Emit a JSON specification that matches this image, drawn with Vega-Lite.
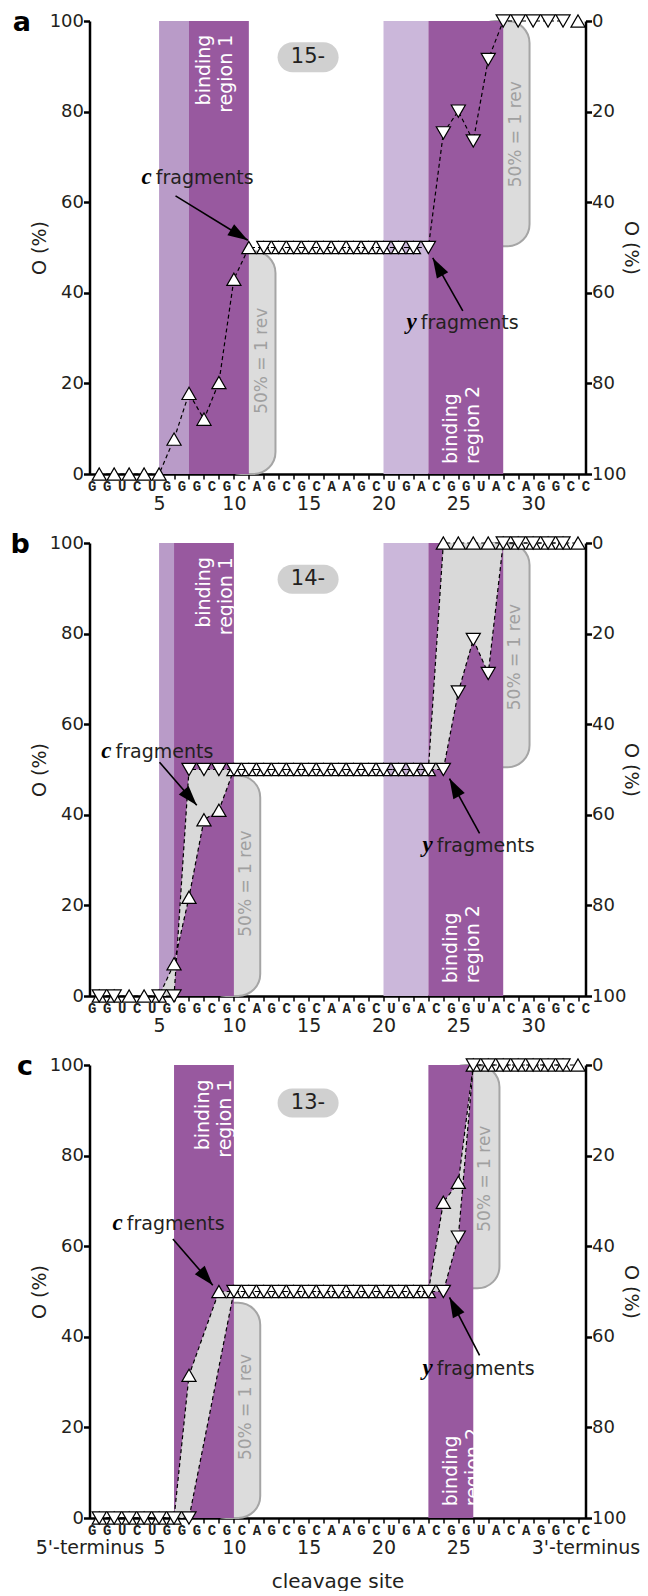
{
"$schema": "https://vega.github.io/schema/vega-lite/v6.json",
"padding": {"left": 9.5, "top": 9, "right": 0, "bottom": 0},
"spacing": 18,
"config": {"font": "DejaVu Sans", "view": {"stroke": null}, "axis": {"grid": false, "domainColor": "#000", "tickColor": "#000", "labelColor": "#231f20", "titleColor": "#231f20", "labelFont": "DejaVu Sans", "titleFont": "DejaVu Sans", "titleFontWeight": "normal"}},
"datasets": {"all": [
{"k":"c","p":"a","g":1,"s":1,"v":0},{"k":"c","p":"a","g":1,"s":2,"v":0},{"k":"c","p":"a","g":1,"s":3,"v":0},{"k":"c","p":"a","g":1,"s":4,"v":0},{"k":"c","p":"a","g":1,"s":5,"v":0},{"k":"c","p":"a","g":1,"s":6,"v":7.7},{"k":"c","p":"a","g":1,"s":7,"v":17.8},{"k":"c","p":"a","g":1,"s":8,"v":12.1},{"k":"c","p":"a","g":1,"s":9,"v":20.2},{"k":"c","p":"a","g":1,"s":10,"v":43},{"k":"c","p":"a","g":1,"s":11,"v":50},{"k":"c","p":"a","g":1,"s":12,"v":50},{"k":"c","p":"a","g":1,"s":13,"v":50},{"k":"c","p":"a","g":1,"s":14,"v":50},{"k":"c","p":"a","g":1,"s":15,"v":50},{"k":"c","p":"a","g":1,"s":16,"v":50},{"k":"c","p":"a","g":1,"s":17,"v":50},{"k":"c","p":"a","g":1,"s":18,"v":50},{"k":"c","p":"a","g":1,"s":19,"v":50},{"k":"c","p":"a","g":1,"s":20,"v":50},{"k":"c","p":"a","g":1,"s":21,"v":50},{"k":"c","p":"a","g":1,"s":22,"v":50},{"k":"c","p":"a","g":2,"s":33,"v":100},
{"k":"y","p":"a","g":1,"s":12,"v":50},{"k":"y","p":"a","g":1,"s":13,"v":50},{"k":"y","p":"a","g":1,"s":14,"v":50},{"k":"y","p":"a","g":1,"s":15,"v":50},{"k":"y","p":"a","g":1,"s":16,"v":50},{"k":"y","p":"a","g":1,"s":17,"v":50},{"k":"y","p":"a","g":1,"s":18,"v":50},{"k":"y","p":"a","g":1,"s":19,"v":50},{"k":"y","p":"a","g":1,"s":20,"v":50},{"k":"y","p":"a","g":1,"s":21,"v":50},{"k":"y","p":"a","g":1,"s":22,"v":50},{"k":"y","p":"a","g":1,"s":23,"v":50},{"k":"y","p":"a","g":1,"s":24,"v":24.7},{"k":"y","p":"a","g":1,"s":25,"v":19.9},{"k":"y","p":"a","g":1,"s":26,"v":26.5},{"k":"y","p":"a","g":1,"s":27,"v":8.5},{"k":"y","p":"a","g":1,"s":28,"v":0},{"k":"y","p":"a","g":1,"s":29,"v":0},{"k":"y","p":"a","g":1,"s":30,"v":0},{"k":"y","p":"a","g":1,"s":31,"v":0},{"k":"y","p":"a","g":1,"s":32,"v":0},
{"k":"c","p":"b","g":1,"s":1,"v":0},{"k":"c","p":"b","g":1,"s":2,"v":0},{"k":"c","p":"b","g":1,"s":3,"v":0},{"k":"c","p":"b","g":1,"s":4,"v":0},{"k":"c","p":"b","g":1,"s":5,"v":0},{"k":"c","p":"b","g":1,"s":6,"v":7.1},{"k":"c","p":"b","g":1,"s":7,"v":21.8},{"k":"c","p":"b","g":1,"s":8,"v":38.9},{"k":"c","p":"b","g":1,"s":9,"v":41},{"k":"c","p":"b","g":1,"s":10,"v":50},{"k":"c","p":"b","g":1,"s":11,"v":50},{"k":"c","p":"b","g":1,"s":12,"v":50},{"k":"c","p":"b","g":1,"s":13,"v":50},{"k":"c","p":"b","g":1,"s":14,"v":50},{"k":"c","p":"b","g":1,"s":15,"v":50},{"k":"c","p":"b","g":1,"s":16,"v":50},{"k":"c","p":"b","g":1,"s":17,"v":50},{"k":"c","p":"b","g":1,"s":18,"v":50},{"k":"c","p":"b","g":1,"s":19,"v":50},{"k":"c","p":"b","g":1,"s":20,"v":50},{"k":"c","p":"b","g":1,"s":21,"v":50},{"k":"c","p":"b","g":1,"s":22,"v":50},{"k":"c","p":"b","g":1,"s":23,"v":50},{"k":"c","p":"b","g":1,"s":24,"v":100},{"k":"c","p":"b","g":1,"s":25,"v":100},{"k":"c","p":"b","g":1,"s":26,"v":100},{"k":"c","p":"b","g":1,"s":27,"v":100},{"k":"c","p":"b","g":1,"s":28,"v":100},{"k":"c","p":"b","g":1,"s":29,"v":100},{"k":"c","p":"b","g":1,"s":30,"v":100},{"k":"c","p":"b","g":1,"s":31,"v":100},{"k":"c","p":"b","g":1,"s":32,"v":100},{"k":"c","p":"b","g":1,"s":33,"v":100},
{"k":"y","p":"b","g":1,"s":1,"v":100},{"k":"y","p":"b","g":1,"s":2,"v":100},{"k":"y","p":"b","g":2,"s":5,"v":100},{"k":"y","p":"b","g":2,"s":6,"v":100},{"k":"y","p":"b","g":2,"s":7,"v":50},{"k":"y","p":"b","g":2,"s":8,"v":50},{"k":"y","p":"b","g":2,"s":9,"v":50},{"k":"y","p":"b","g":2,"s":10,"v":50},{"k":"y","p":"b","g":2,"s":11,"v":50},{"k":"y","p":"b","g":2,"s":12,"v":50},{"k":"y","p":"b","g":2,"s":13,"v":50},{"k":"y","p":"b","g":2,"s":14,"v":50},{"k":"y","p":"b","g":2,"s":15,"v":50},{"k":"y","p":"b","g":2,"s":16,"v":50},{"k":"y","p":"b","g":2,"s":17,"v":50},{"k":"y","p":"b","g":2,"s":18,"v":50},{"k":"y","p":"b","g":2,"s":19,"v":50},{"k":"y","p":"b","g":2,"s":20,"v":50},{"k":"y","p":"b","g":2,"s":21,"v":50},{"k":"y","p":"b","g":2,"s":22,"v":50},{"k":"y","p":"b","g":2,"s":23,"v":50},{"k":"y","p":"b","g":2,"s":24,"v":50},{"k":"y","p":"b","g":2,"s":25,"v":32.9},{"k":"y","p":"b","g":2,"s":26,"v":21.3},{"k":"y","p":"b","g":2,"s":27,"v":28.8},{"k":"y","p":"b","g":2,"s":28,"v":0},{"k":"y","p":"b","g":2,"s":29,"v":0},{"k":"y","p":"b","g":2,"s":30,"v":0},{"k":"y","p":"b","g":2,"s":31,"v":0},{"k":"y","p":"b","g":2,"s":32,"v":0},
{"k":"c","p":"c","g":1,"s":1,"v":0},{"k":"c","p":"c","g":1,"s":2,"v":0},{"k":"c","p":"c","g":1,"s":3,"v":0},{"k":"c","p":"c","g":1,"s":4,"v":0},{"k":"c","p":"c","g":1,"s":5,"v":0},{"k":"c","p":"c","g":1,"s":6,"v":0},{"k":"c","p":"c","g":1,"s":7,"v":31.5},{"k":"c","p":"c","g":1,"s":9,"v":50},{"k":"c","p":"c","g":1,"s":10,"v":50},{"k":"c","p":"c","g":1,"s":11,"v":50},{"k":"c","p":"c","g":1,"s":12,"v":50},{"k":"c","p":"c","g":1,"s":13,"v":50},{"k":"c","p":"c","g":1,"s":14,"v":50},{"k":"c","p":"c","g":1,"s":15,"v":50},{"k":"c","p":"c","g":1,"s":16,"v":50},{"k":"c","p":"c","g":1,"s":17,"v":50},{"k":"c","p":"c","g":1,"s":18,"v":50},{"k":"c","p":"c","g":1,"s":19,"v":50},{"k":"c","p":"c","g":1,"s":20,"v":50},{"k":"c","p":"c","g":1,"s":21,"v":50},{"k":"c","p":"c","g":1,"s":22,"v":50},{"k":"c","p":"c","g":1,"s":23,"v":50},{"k":"c","p":"c","g":1,"s":24,"v":69.7},{"k":"c","p":"c","g":1,"s":25,"v":74.1},{"k":"c","p":"c","g":1,"s":26,"v":100},{"k":"c","p":"c","g":1,"s":27,"v":100},{"k":"c","p":"c","g":1,"s":28,"v":100},{"k":"c","p":"c","g":1,"s":29,"v":100},{"k":"c","p":"c","g":1,"s":30,"v":100},{"k":"c","p":"c","g":1,"s":31,"v":100},{"k":"c","p":"c","g":1,"s":32,"v":100},{"k":"c","p":"c","g":1,"s":33,"v":100},
{"k":"y","p":"c","g":1,"s":1,"v":100},{"k":"y","p":"c","g":1,"s":2,"v":100},{"k":"y","p":"c","g":1,"s":3,"v":100},{"k":"y","p":"c","g":1,"s":4,"v":100},{"k":"y","p":"c","g":1,"s":5,"v":100},{"k":"y","p":"c","g":1,"s":6,"v":100},{"k":"y","p":"c","g":1,"s":7,"v":100},{"k":"y","p":"c","g":1,"s":10,"v":50},{"k":"y","p":"c","g":1,"s":11,"v":50},{"k":"y","p":"c","g":1,"s":12,"v":50},{"k":"y","p":"c","g":1,"s":13,"v":50},{"k":"y","p":"c","g":1,"s":14,"v":50},{"k":"y","p":"c","g":1,"s":15,"v":50},{"k":"y","p":"c","g":1,"s":16,"v":50},{"k":"y","p":"c","g":1,"s":17,"v":50},{"k":"y","p":"c","g":1,"s":18,"v":50},{"k":"y","p":"c","g":1,"s":19,"v":50},{"k":"y","p":"c","g":1,"s":20,"v":50},{"k":"y","p":"c","g":1,"s":21,"v":50},{"k":"y","p":"c","g":1,"s":22,"v":50},{"k":"y","p":"c","g":1,"s":23,"v":50},{"k":"y","p":"c","g":1,"s":24,"v":50},{"k":"y","p":"c","g":1,"s":25,"v":38},{"k":"y","p":"c","g":1,"s":26,"v":0},{"k":"y","p":"c","g":1,"s":27,"v":0},{"k":"y","p":"c","g":1,"s":28,"v":0},{"k":"y","p":"c","g":1,"s":29,"v":0},{"k":"y","p":"c","g":1,"s":30,"v":0},{"k":"y","p":"c","g":1,"s":31,"v":0},{"k":"y","p":"c","g":1,"s":32,"v":0},
{"k":"poly","p":"b","g":1,"o":1,"s":5,"v":0},{"k":"poly","p":"b","g":1,"o":2,"s":6,"v":7.1},{"k":"poly","p":"b","g":1,"o":3,"s":7,"v":21.8},{"k":"poly","p":"b","g":1,"o":4,"s":8,"v":38.9},{"k":"poly","p":"b","g":1,"o":5,"s":9,"v":41},{"k":"poly","p":"b","g":1,"o":6,"s":10,"v":50},{"k":"poly","p":"b","g":1,"o":7,"s":9,"v":50},{"k":"poly","p":"b","g":1,"o":8,"s":8,"v":50},{"k":"poly","p":"b","g":1,"o":9,"s":7,"v":50},{"k":"poly","p":"b","g":1,"o":10,"s":6,"v":0},
{"k":"poly","p":"b","g":2,"o":1,"s":23,"v":50},{"k":"poly","p":"b","g":2,"o":2,"s":24,"v":100},{"k":"poly","p":"b","g":2,"o":3,"s":28,"v":100},{"k":"poly","p":"b","g":2,"o":4,"s":27,"v":71.2},{"k":"poly","p":"b","g":2,"o":5,"s":26,"v":78.7},{"k":"poly","p":"b","g":2,"o":6,"s":25,"v":67.1},{"k":"poly","p":"b","g":2,"o":7,"s":24,"v":50},
{"k":"poly","p":"c","g":1,"o":1,"s":6,"v":0},{"k":"poly","p":"c","g":1,"o":2,"s":7,"v":31.5},{"k":"poly","p":"c","g":1,"o":3,"s":9,"v":50},{"k":"poly","p":"c","g":1,"o":4,"s":10,"v":50},{"k":"poly","p":"c","g":1,"o":5,"s":7,"v":0},
{"k":"poly","p":"c","g":2,"o":1,"s":23,"v":50},{"k":"poly","p":"c","g":2,"o":2,"s":24,"v":69.7},{"k":"poly","p":"c","g":2,"o":3,"s":25,"v":74.1},{"k":"poly","p":"c","g":2,"o":4,"s":26,"v":100},{"k":"poly","p":"c","g":2,"o":5,"s":25,"v":62},{"k":"poly","p":"c","g":2,"o":6,"s":24,"v":50},
{"k":"reg","p":"a","x1":5,"x2":7,"kind":"ext1"},{"k":"reg","p":"a","x1":7,"x2":11,"kind":"core"},{"k":"reg","p":"a","x1":20,"x2":23,"kind":"ext2"},{"k":"reg","p":"a","x1":23,"x2":28,"kind":"core"},
{"k":"reg","p":"b","x1":5,"x2":6,"kind":"ext1"},{"k":"reg","p":"b","x1":6,"x2":10,"kind":"core"},{"k":"reg","p":"b","x1":20,"x2":23,"kind":"ext2"},{"k":"reg","p":"b","x1":23,"x2":28,"kind":"core"},
{"k":"reg","p":"c","x1":6,"x2":10,"kind":"core"},{"k":"reg","p":"c","x1":23,"x2":26,"kind":"core"},
{"k":"rev","p":"a","x1":9,"x2":12.78,"y1":0,"y2":49.2,"xt":11.85,"yt":25,"rt":"50% = 1 rev"},{"k":"rev","p":"a","x1":26,"x2":29.76,"y1":50.3,"y2":100,"xt":28.87,"yt":75,"rt":"50% = 1 rev"},
{"k":"rev","p":"b","x1":8,"x2":11.76,"y1":0,"y2":48.7,"xt":10.82,"yt":24.8,"rt":"50% = 1 rev"},{"k":"rev","p":"b","x1":26,"x2":29.76,"y1":50.5,"y2":100,"xt":28.76,"yt":74.8,"rt":"50% = 1 rev"},
{"k":"rev","p":"c","x1":8,"x2":11.76,"y1":0,"y2":47.5,"xt":10.82,"yt":24.5,"rt":"50% = 1 rev"},{"k":"rev","p":"c","x1":24,"x2":27.75,"y1":50.7,"y2":100,"xt":26.75,"yt":74.9,"rt":"50% = 1 rev"},
{"k":"pill","p":"a","x1":12.92,"x2":17,"y1":88.7,"y2":95.3,"xt":14.95,"yt":92,"t":"15-"},
{"k":"pill","p":"b","x1":12.92,"x2":17,"y1":88.8,"y2":95.2,"xt":14.95,"yt":92,"t":"14-"},
{"k":"pill","p":"c","x1":12.92,"x2":17,"y1":88.4,"y2":94.8,"xt":14.95,"yt":91.6,"t":"13-"},
{"k":"bind","p":"a","r":1,"s":7.97,"v":97,"t":"binding\nregion 1"},{"k":"bind","p":"a","r":2,"s":24.52,"v":2.2,"t":"binding\nregion 2"},
{"k":"bind","p":"b","r":1,"s":7.97,"v":96.9,"t":"binding\nregion 1"},{"k":"bind","p":"b","r":2,"s":24.48,"v":2.8,"t":"binding\nregion 2"},
{"k":"bind","p":"c","r":1,"s":7.93,"v":96.8,"t":"binding\nregion 1"},{"k":"bind","p":"c","r":2,"s":24.48,"v":2.6,"t":"binding\nregion 2"},
{"k":"arr","p":"a","f":"c","x1":6.1,"y1":61.4,"x2":10.93,"y2":51.6,"xl":4.58,"yl":64,"t":"c","w":"fragments"},
{"k":"arr","p":"a","f":"y","x1":25.3,"y1":36,"x2":23.29,"y2":47.7,"xl":22.29,"yl":31.9,"t":"y","w":"fragments"},
{"k":"arr","p":"b","f":"c","x1":5.03,"y1":51.6,"x2":7.52,"y2":42.1,"xl":1.89,"yl":52.5,"t":"c","w":"fragments"},
{"k":"arr","p":"b","f":"y","x1":26.42,"y1":35.9,"x2":24.41,"y2":48,"xl":23.36,"yl":31.8,"t":"y","w":"fragments"},
{"k":"arr","p":"c","f":"c","x1":5.92,"y1":61.6,"x2":8.59,"y2":51.4,"xl":2.64,"yl":63.5,"t":"c","w":"fragments"},
{"k":"arr","p":"c","f":"y","x1":26.42,"y1":35.9,"x2":24.41,"y2":48.7,"xl":23.36,"yl":31.5,"t":"y","w":"fragments"}
]},
"vconcat": [
{"width": 496, "height": 453, "data": {"name": "all"}, "transform": [{"filter": "datum.p === 'a'"}],
 "title": {"text": "a", "orient": "left", "anchor": "end", "frame": "group", "angle": 0, "align": "right", "baseline": "alphabetic", "dy": 10, "offset": -19, "fontSize": 27, "fontWeight": "bold", "color": "#000", "font": "DejaVu Sans"},
 "resolve": {"scale": {"y": "independent"}, "axis": {"x": "independent", "y": "independent"}},
 "layer": [
  {"transform": [{"filter": "datum.k === 'rev'"}], "mark": {"type": "rect", "cornerRadius": 22, "fill": "#dcdcdc", "stroke": "#a5a5a5", "strokeWidth": 2},
   "encoding": {"x": {"field": "x1", "type": "quantitative", "scale": {"domain": [0.35, 33.5], "nice": false, "zero": false}, "axis": {"orient": "bottom", "values": [1,2,3,4,5,6,7,8,9,10,11,12,13,14,15,16,17,18,19,20,21,22,23,24,25,26,27,28,29,30,31,32,33], "labels": false, "tickSize": 5, "tickWidth": 1.5, "domainWidth": 2.5, "title": null}}, "x2": {"field": "x2"},
    "y": {"field": "y1", "type": "quantitative", "scale": {"domain": [0, 100], "nice": false}, "axis": {"values": [0,20,40,60,80,100], "orient": "left", "tickSize": 6, "tickWidth": 2.5, "domainWidth": 2.5, "labelPadding": 0, "labelFontSize": 18, "title": "O (%)", "titlePadding": 0, "titleFontSize": 19}}, "y2": {"field": "y2"}}},
  {"transform": [{"filter": "datum.k === 'reg'"}], "mark": {"type": "rect"},
   "encoding": {"x": {"field": "x1", "type": "quantitative", "scale": {"domain": [0.35, 33.5], "nice": false, "zero": false}, "axis": {"orient": "bottom", "values": [0.5,1.5,2.5,3.5,4.5,5.5,6.5,7.5,8.5,9.5,10.5,11.5,12.5,13.5,14.5,15.5,16.5,17.5,18.5,19.5,20.5,21.5,22.5,23.5,24.5,25.5,26.5,27.5,28.5,29.5,30.5,31.5,32.5,33.5], "labelExpr": "substring('GGUCUGGGCGCAGCGCAAGCUGACGGUACAGGCC', datum.value - 0.5, datum.value + 0.5)", "domain": false, "ticks": false, "tickSize": 0, "labelFont": "Liberation Mono", "labelFontWeight": "bold", "labelFontSize": 14, "labelPadding": 5, "labelFlush": false, "labelOverlap": false, "labelBound": false, "title": null}}, "x2": {"field": "x2"},
    "color": {"field": "kind", "type": "nominal", "scale": {"domain": ["ext1", "ext2", "core"], "range": ["#b99bc8", "#cbb7da", "#98599f"]}, "legend": null}}},
  {"transform": [{"filter": "datum.k === 'poly'"}], "mark": {"type": "line", "filled": true, "fill": "#d9d9d9", "strokeWidth": 0},
   "encoding": {"x": {"field": "s", "type": "quantitative", "scale": {"domain": [0.35, 33.5], "nice": false, "zero": false}, "axis": null}, "y": {"field": "v", "type": "quantitative", "scale": {"domain": [0, 100], "nice": false}, "axis": null}, "detail": {"field": "g"}, "order": {"field": "o", "type": "quantitative"}}},
  {"transform": [{"filter": "datum.k === 'bind' && datum.r === 1"}], "mark": {"type": "text", "angle": 270, "align": "right", "baseline": "middle", "color": "#ffffff", "fontSize": 19, "lineBreak": "\n", "lineHeight": 22},
   "encoding": {"x": {"field": "s", "type": "quantitative", "scale": {"domain": [0.35, 33.5], "nice": false, "zero": false}, "axis": null}, "y": {"field": "v", "type": "quantitative", "scale": {"domain": [0, 100], "nice": false}, "axis": null}, "text": {"field": "t"}}},
  {"transform": [{"filter": "datum.k === 'bind' && datum.r === 2"}], "mark": {"type": "text", "angle": 270, "align": "left", "baseline": "middle", "color": "#ffffff", "fontSize": 19, "lineBreak": "\n", "lineHeight": 22},
   "encoding": {"x": {"field": "s", "type": "quantitative", "scale": {"domain": [0.35, 33.5], "nice": false, "zero": false}, "axis": null}, "y": {"field": "v", "type": "quantitative", "scale": {"domain": [0, 100], "nice": false}, "axis": null}, "text": {"field": "t"}}},
  {"transform": [{"filter": "datum.k === 'rev'"}], "mark": {"type": "text", "angle": 270, "align": "center", "baseline": "middle", "color": "#a0a0a0", "fontSize": 17},
   "encoding": {"x": {"field": "xt", "type": "quantitative", "scale": {"domain": [0.35, 33.5], "nice": false, "zero": false}, "axis": {"orient": "bottom", "values": [5,10,15,20,25,30], "domain": false, "ticks": false, "tickSize": 0, "labelPadding": 20, "labelFontSize": 19, "labelFlush": false, "labelOverlap": false, "title": null}}, "y": {"field": "yt", "type": "quantitative", "scale": {"domain": [0, 100], "nice": false}, "axis": null}, "text": {"field": "rt"}}},
  {"transform": [{"filter": "datum.k === 'pill'"}], "mark": {"type": "rect", "cornerRadius": 15, "fill": "#d0d0d0"},
   "encoding": {"x": {"field": "x1", "type": "quantitative", "scale": {"domain": [0.35, 33.5], "nice": false, "zero": false}, "axis": null}, "x2": {"field": "x2"}, "y": {"field": "y1", "type": "quantitative", "scale": {"domain": [0, 100], "nice": false}, "axis": null}, "y2": {"field": "y2"}}},
  {"transform": [{"filter": "datum.k === 'pill'"}], "mark": {"type": "text", "fontSize": 21, "color": "#231f20", "baseline": "middle"},
   "encoding": {"x": {"field": "xt", "type": "quantitative", "scale": {"domain": [0.35, 33.5], "nice": false, "zero": false}, "axis": null}, "y": {"field": "yt", "type": "quantitative", "scale": {"domain": [0, 100], "nice": false}, "axis": null}, "text": {"field": "t"}}},
  {"transform": [{"filter": "datum.k === 'arr'"}], "mark": {"type": "rule", "strokeWidth": 1.6, "color": "#000"},
   "encoding": {"x": {"field": "x1", "type": "quantitative", "scale": {"domain": [0.35, 33.5], "nice": false, "zero": false}, "axis": null}, "x2": {"field": "x2"}, "y": {"field": "y1", "type": "quantitative", "scale": {"domain": [0, 100], "nice": false}, "axis": null}, "y2": {"field": "y2"}}},
  {"transform": [{"filter": "datum.k === 'arr' && datum.f === 'c'"}], "mark": {"type": "point", "shape": "M0,0L0.65,2L-0.65,2Z", "size": 400, "filled": true, "color": "#000", "opacity": 1, "angle": 121.5},
   "encoding": {"x": {"field": "x2", "type": "quantitative", "scale": {"domain": [0.35, 33.5], "nice": false, "zero": false}, "axis": null}, "y": {"field": "y2", "type": "quantitative", "scale": {"domain": [0, 100], "nice": false}, "axis": null}}},
  {"transform": [{"filter": "datum.k === 'arr' && datum.f === 'y'"}], "mark": {"type": "point", "shape": "M0,0L0.65,2L-0.65,2Z", "size": 400, "filled": true, "color": "#000", "opacity": 1, "angle": 330.6},
   "encoding": {"x": {"field": "x2", "type": "quantitative", "scale": {"domain": [0.35, 33.5], "nice": false, "zero": false}, "axis": null}, "y": {"field": "y2", "type": "quantitative", "scale": {"domain": [0, 100], "nice": false}, "axis": null}}},
  {"transform": [{"filter": "datum.k === 'arr'"}], "mark": {"type": "text", "align": "right", "baseline": "alphabetic", "dx": -1, "font": "Liberation Serif", "fontStyle": "italic", "fontWeight": "bold", "fontSize": 23, "color": "#000"},
   "encoding": {"x": {"field": "xl", "type": "quantitative", "scale": {"domain": [0.35, 33.5], "nice": false, "zero": false}, "axis": null}, "y": {"field": "yl", "type": "quantitative", "scale": {"domain": [0, 100], "nice": false}, "axis": null}, "text": {"field": "t"}}},
  {"transform": [{"filter": "datum.k === 'arr'"}], "mark": {"type": "text", "align": "left", "baseline": "alphabetic", "dx": 3, "fontSize": 19, "color": "#231f20"},
   "encoding": {"x": {"field": "xl", "type": "quantitative", "scale": {"domain": [0.35, 33.5], "nice": false, "zero": false}, "axis": null}, "y": {"field": "yl", "type": "quantitative", "scale": {"domain": [0, 100], "nice": false}, "axis": null}, "text": {"field": "w"}}},
  {"transform": [{"filter": "datum.k === 'c'"}], "mark": {"type": "line", "strokeDash": [4, 3], "strokeWidth": 1.2, "color": "#000"},
   "encoding": {"x": {"field": "s", "type": "quantitative", "scale": {"domain": [0.35, 33.5], "nice": false, "zero": false}, "axis": null}, "y": {"field": "v", "type": "quantitative", "scale": {"domain": [0, 100], "nice": false}, "axis": null}, "detail": {"field": "g"}}},
  {"transform": [{"filter": "datum.k === 'y'"}], "mark": {"type": "line", "strokeDash": [4, 3], "strokeWidth": 1.2, "color": "#000"},
   "encoding": {"x": {"field": "s", "type": "quantitative", "scale": {"domain": [0.35, 33.5], "nice": false, "zero": false}, "axis": null}, "y": {"field": "v", "type": "quantitative", "scale": {"domain": [0, 100], "nice": false, "reverse": true}, "axis": null}, "detail": {"field": "g"}}},
  {"transform": [{"filter": "datum.k === 'c'"}], "mark": {"type": "point", "shape": "triangle-up", "size": 200, "filled": true, "fill": "#fff", "stroke": "#000", "strokeWidth": 1.2, "opacity": 1},
   "encoding": {"x": {"field": "s", "type": "quantitative", "scale": {"domain": [0.35, 33.5], "nice": false, "zero": false}, "axis": null}, "y": {"field": "v", "type": "quantitative", "scale": {"domain": [0, 100], "nice": false}, "axis": null}}},
  {"transform": [{"filter": "datum.k === 'y'"}], "mark": {"type": "point", "shape": "triangle-down", "size": 200, "filled": true, "fill": "#fff", "stroke": "#000", "strokeWidth": 1.2, "opacity": 1},
   "encoding": {"x": {"field": "s", "type": "quantitative", "scale": {"domain": [0.35, 33.5], "nice": false, "zero": false}, "axis": null}, "y": {"field": "v", "type": "quantitative", "scale": {"domain": [0, 100], "nice": false, "reverse": true}, "axis": {"values": [0,20,40,60,80,100], "orient": "right", "tickSize": 6, "tickWidth": 2.5, "domainWidth": 2.5, "labelPadding": 0, "labelFontSize": 18, "title": "O (%)", "titleAngle": 90, "titlePadding": -5, "titleFontSize": 19}}}}
 ]},
{"width": 496, "height": 453, "data": {"name": "all"}, "transform": [{"filter": "datum.p === 'b'"}],
 "title": {"text": "b", "orient": "left", "anchor": "end", "frame": "group", "angle": 0, "align": "right", "baseline": "alphabetic", "dy": 10, "offset": -19, "fontSize": 27, "fontWeight": "bold", "color": "#000", "font": "DejaVu Sans"},
 "resolve": {"scale": {"y": "independent"}, "axis": {"x": "independent", "y": "independent"}},
 "layer": [
  {"transform": [{"filter": "datum.k === 'rev'"}], "mark": {"type": "rect", "cornerRadius": 22, "fill": "#dcdcdc", "stroke": "#a5a5a5", "strokeWidth": 2},
   "encoding": {"x": {"field": "x1", "type": "quantitative", "scale": {"domain": [0.35, 33.5], "nice": false, "zero": false}, "axis": {"orient": "bottom", "values": [1,2,3,4,5,6,7,8,9,10,11,12,13,14,15,16,17,18,19,20,21,22,23,24,25,26,27,28,29,30,31,32,33], "labels": false, "tickSize": 5, "tickWidth": 1.5, "domainWidth": 2.5, "title": null}}, "x2": {"field": "x2"},
    "y": {"field": "y1", "type": "quantitative", "scale": {"domain": [0, 100], "nice": false}, "axis": {"values": [0,20,40,60,80,100], "orient": "left", "tickSize": 6, "tickWidth": 2.5, "domainWidth": 2.5, "labelPadding": 0, "labelFontSize": 18, "title": "O (%)", "titlePadding": 0, "titleFontSize": 19}}, "y2": {"field": "y2"}}},
  {"transform": [{"filter": "datum.k === 'reg'"}], "mark": {"type": "rect"},
   "encoding": {"x": {"field": "x1", "type": "quantitative", "scale": {"domain": [0.35, 33.5], "nice": false, "zero": false}, "axis": {"orient": "bottom", "values": [0.5,1.5,2.5,3.5,4.5,5.5,6.5,7.5,8.5,9.5,10.5,11.5,12.5,13.5,14.5,15.5,16.5,17.5,18.5,19.5,20.5,21.5,22.5,23.5,24.5,25.5,26.5,27.5,28.5,29.5,30.5,31.5,32.5,33.5], "labelExpr": "substring('GGUCUGGGCGCAGCGCAAGCUGACGGUACAGGCC', datum.value - 0.5, datum.value + 0.5)", "domain": false, "ticks": false, "tickSize": 0, "labelFont": "Liberation Mono", "labelFontWeight": "bold", "labelFontSize": 14, "labelPadding": 5, "labelFlush": false, "labelOverlap": false, "labelBound": false, "title": null}}, "x2": {"field": "x2"},
    "color": {"field": "kind", "type": "nominal", "scale": {"domain": ["ext1", "ext2", "core"], "range": ["#b99bc8", "#cbb7da", "#98599f"]}, "legend": null}}},
  {"transform": [{"filter": "datum.k === 'poly'"}], "mark": {"type": "line", "filled": true, "fill": "#d9d9d9", "strokeWidth": 0},
   "encoding": {"x": {"field": "s", "type": "quantitative", "scale": {"domain": [0.35, 33.5], "nice": false, "zero": false}, "axis": null}, "y": {"field": "v", "type": "quantitative", "scale": {"domain": [0, 100], "nice": false}, "axis": null}, "detail": {"field": "g"}, "order": {"field": "o", "type": "quantitative"}}},
  {"transform": [{"filter": "datum.k === 'bind' && datum.r === 1"}], "mark": {"type": "text", "angle": 270, "align": "right", "baseline": "middle", "color": "#ffffff", "fontSize": 19, "lineBreak": "\n", "lineHeight": 22},
   "encoding": {"x": {"field": "s", "type": "quantitative", "scale": {"domain": [0.35, 33.5], "nice": false, "zero": false}, "axis": null}, "y": {"field": "v", "type": "quantitative", "scale": {"domain": [0, 100], "nice": false}, "axis": null}, "text": {"field": "t"}}},
  {"transform": [{"filter": "datum.k === 'bind' && datum.r === 2"}], "mark": {"type": "text", "angle": 270, "align": "left", "baseline": "middle", "color": "#ffffff", "fontSize": 19, "lineBreak": "\n", "lineHeight": 22},
   "encoding": {"x": {"field": "s", "type": "quantitative", "scale": {"domain": [0.35, 33.5], "nice": false, "zero": false}, "axis": null}, "y": {"field": "v", "type": "quantitative", "scale": {"domain": [0, 100], "nice": false}, "axis": null}, "text": {"field": "t"}}},
  {"transform": [{"filter": "datum.k === 'rev'"}], "mark": {"type": "text", "angle": 270, "align": "center", "baseline": "middle", "color": "#a0a0a0", "fontSize": 17},
   "encoding": {"x": {"field": "xt", "type": "quantitative", "scale": {"domain": [0.35, 33.5], "nice": false, "zero": false}, "axis": {"orient": "bottom", "values": [5,10,15,20,25,30], "domain": false, "ticks": false, "tickSize": 0, "labelPadding": 20, "labelFontSize": 19, "labelFlush": false, "labelOverlap": false, "title": null}}, "y": {"field": "yt", "type": "quantitative", "scale": {"domain": [0, 100], "nice": false}, "axis": null}, "text": {"field": "rt"}}},
  {"transform": [{"filter": "datum.k === 'pill'"}], "mark": {"type": "rect", "cornerRadius": 15, "fill": "#d0d0d0"},
   "encoding": {"x": {"field": "x1", "type": "quantitative", "scale": {"domain": [0.35, 33.5], "nice": false, "zero": false}, "axis": null}, "x2": {"field": "x2"}, "y": {"field": "y1", "type": "quantitative", "scale": {"domain": [0, 100], "nice": false}, "axis": null}, "y2": {"field": "y2"}}},
  {"transform": [{"filter": "datum.k === 'pill'"}], "mark": {"type": "text", "fontSize": 21, "color": "#231f20", "baseline": "middle"},
   "encoding": {"x": {"field": "xt", "type": "quantitative", "scale": {"domain": [0.35, 33.5], "nice": false, "zero": false}, "axis": null}, "y": {"field": "yt", "type": "quantitative", "scale": {"domain": [0, 100], "nice": false}, "axis": null}, "text": {"field": "t"}}},
  {"transform": [{"filter": "datum.k === 'arr'"}], "mark": {"type": "rule", "strokeWidth": 1.6, "color": "#000"},
   "encoding": {"x": {"field": "x1", "type": "quantitative", "scale": {"domain": [0.35, 33.5], "nice": false, "zero": false}, "axis": null}, "x2": {"field": "x2"}, "y": {"field": "y1", "type": "quantitative", "scale": {"domain": [0, 100], "nice": false}, "axis": null}, "y2": {"field": "y2"}}},
  {"transform": [{"filter": "datum.k === 'arr' && datum.f === 'c'"}], "mark": {"type": "point", "shape": "M0,0L0.65,2L-0.65,2Z", "size": 400, "filled": true, "color": "#000", "opacity": 1, "angle": 139.1},
   "encoding": {"x": {"field": "x2", "type": "quantitative", "scale": {"domain": [0.35, 33.5], "nice": false, "zero": false}, "axis": null}, "y": {"field": "y2", "type": "quantitative", "scale": {"domain": [0, 100], "nice": false}, "axis": null}}},
  {"transform": [{"filter": "datum.k === 'arr' && datum.f === 'y'"}], "mark": {"type": "point", "shape": "M0,0L0.65,2L-0.65,2Z", "size": 400, "filled": true, "color": "#000", "opacity": 1, "angle": 331.4},
   "encoding": {"x": {"field": "x2", "type": "quantitative", "scale": {"domain": [0.35, 33.5], "nice": false, "zero": false}, "axis": null}, "y": {"field": "y2", "type": "quantitative", "scale": {"domain": [0, 100], "nice": false}, "axis": null}}},
  {"transform": [{"filter": "datum.k === 'arr'"}], "mark": {"type": "text", "align": "right", "baseline": "alphabetic", "dx": -1, "font": "Liberation Serif", "fontStyle": "italic", "fontWeight": "bold", "fontSize": 23, "color": "#000"},
   "encoding": {"x": {"field": "xl", "type": "quantitative", "scale": {"domain": [0.35, 33.5], "nice": false, "zero": false}, "axis": null}, "y": {"field": "yl", "type": "quantitative", "scale": {"domain": [0, 100], "nice": false}, "axis": null}, "text": {"field": "t"}}},
  {"transform": [{"filter": "datum.k === 'arr'"}], "mark": {"type": "text", "align": "left", "baseline": "alphabetic", "dx": 3, "fontSize": 19, "color": "#231f20"},
   "encoding": {"x": {"field": "xl", "type": "quantitative", "scale": {"domain": [0.35, 33.5], "nice": false, "zero": false}, "axis": null}, "y": {"field": "yl", "type": "quantitative", "scale": {"domain": [0, 100], "nice": false}, "axis": null}, "text": {"field": "w"}}},
  {"transform": [{"filter": "datum.k === 'c'"}], "mark": {"type": "line", "strokeDash": [4, 3], "strokeWidth": 1.2, "color": "#000"},
   "encoding": {"x": {"field": "s", "type": "quantitative", "scale": {"domain": [0.35, 33.5], "nice": false, "zero": false}, "axis": null}, "y": {"field": "v", "type": "quantitative", "scale": {"domain": [0, 100], "nice": false}, "axis": null}, "detail": {"field": "g"}}},
  {"transform": [{"filter": "datum.k === 'y'"}], "mark": {"type": "line", "strokeDash": [4, 3], "strokeWidth": 1.2, "color": "#000"},
   "encoding": {"x": {"field": "s", "type": "quantitative", "scale": {"domain": [0.35, 33.5], "nice": false, "zero": false}, "axis": null}, "y": {"field": "v", "type": "quantitative", "scale": {"domain": [0, 100], "nice": false, "reverse": true}, "axis": null}, "detail": {"field": "g"}}},
  {"transform": [{"filter": "datum.k === 'c'"}], "mark": {"type": "point", "shape": "triangle-up", "size": 200, "filled": true, "fill": "#fff", "stroke": "#000", "strokeWidth": 1.2, "opacity": 1},
   "encoding": {"x": {"field": "s", "type": "quantitative", "scale": {"domain": [0.35, 33.5], "nice": false, "zero": false}, "axis": null}, "y": {"field": "v", "type": "quantitative", "scale": {"domain": [0, 100], "nice": false}, "axis": null}}},
  {"transform": [{"filter": "datum.k === 'y'"}], "mark": {"type": "point", "shape": "triangle-down", "size": 200, "filled": true, "fill": "#fff", "stroke": "#000", "strokeWidth": 1.2, "opacity": 1},
   "encoding": {"x": {"field": "s", "type": "quantitative", "scale": {"domain": [0.35, 33.5], "nice": false, "zero": false}, "axis": null}, "y": {"field": "v", "type": "quantitative", "scale": {"domain": [0, 100], "nice": false, "reverse": true}, "axis": {"values": [0,20,40,60,80,100], "orient": "right", "tickSize": 6, "tickWidth": 2.5, "domainWidth": 2.5, "labelPadding": 0, "labelFontSize": 18, "title": "O (%)", "titleAngle": 90, "titlePadding": -5, "titleFontSize": 19}}}}
 ]},
{"width": 496, "height": 453, "data": {"name": "all"}, "transform": [{"filter": "datum.p === 'c'"}],
 "title": {"text": "c", "orient": "left", "anchor": "end", "frame": "group", "angle": 0, "align": "right", "baseline": "alphabetic", "dy": 10, "offset": -19, "fontSize": 27, "fontWeight": "bold", "color": "#000", "font": "DejaVu Sans"},
 "resolve": {"scale": {"y": "independent"}, "axis": {"x": "independent", "y": "independent"}},
 "layer": [
  {"transform": [{"filter": "datum.k === 'rev'"}], "mark": {"type": "rect", "cornerRadius": 22, "fill": "#dcdcdc", "stroke": "#a5a5a5", "strokeWidth": 2},
   "encoding": {"x": {"field": "x1", "type": "quantitative", "scale": {"domain": [0.35, 33.5], "nice": false, "zero": false}, "axis": {"orient": "bottom", "values": [1,2,3,4,5,6,7,8,9,10,11,12,13,14,15,16,17,18,19,20,21,22,23,24,25,26,27,28,29,30,31,32,33], "labels": false, "tickSize": 5, "tickWidth": 1.5, "domainWidth": 2.5, "title": null}}, "x2": {"field": "x2"},
    "y": {"field": "y1", "type": "quantitative", "scale": {"domain": [0, 100], "nice": false}, "axis": {"values": [0,20,40,60,80,100], "orient": "left", "tickSize": 6, "tickWidth": 2.5, "domainWidth": 2.5, "labelPadding": 0, "labelFontSize": 18, "title": "O (%)", "titlePadding": 0, "titleFontSize": 19}}, "y2": {"field": "y2"}}},
  {"transform": [{"filter": "datum.k === 'reg'"}], "mark": {"type": "rect"},
   "encoding": {"x": {"field": "x1", "type": "quantitative", "scale": {"domain": [0.35, 33.5], "nice": false, "zero": false}, "axis": {"orient": "bottom", "values": [0.5,1.5,2.5,3.5,4.5,5.5,6.5,7.5,8.5,9.5,10.5,11.5,12.5,13.5,14.5,15.5,16.5,17.5,18.5,19.5,20.5,21.5,22.5,23.5,24.5,25.5,26.5,27.5,28.5,29.5,30.5,31.5,32.5,33.5], "labelExpr": "substring('GGUCUGGGCGCAGCGCAAGCUGACGGUACAGGCC', datum.value - 0.5, datum.value + 0.5)", "domain": false, "ticks": false, "tickSize": 0, "labelFont": "Liberation Mono", "labelFontWeight": "bold", "labelFontSize": 14, "labelPadding": 5, "labelFlush": false, "labelOverlap": false, "labelBound": false, "title": null}}, "x2": {"field": "x2"},
    "color": {"field": "kind", "type": "nominal", "scale": {"domain": ["ext1", "ext2", "core"], "range": ["#b99bc8", "#cbb7da", "#98599f"]}, "legend": null}}},
  {"transform": [{"filter": "datum.k === 'poly'"}], "mark": {"type": "line", "filled": true, "fill": "#d9d9d9", "strokeWidth": 0},
   "encoding": {"x": {"field": "s", "type": "quantitative", "scale": {"domain": [0.35, 33.5], "nice": false, "zero": false}, "axis": null}, "y": {"field": "v", "type": "quantitative", "scale": {"domain": [0, 100], "nice": false}, "axis": null}, "detail": {"field": "g"}, "order": {"field": "o", "type": "quantitative"}}},
  {"transform": [{"filter": "datum.k === 'bind' && datum.r === 1"}], "mark": {"type": "text", "angle": 270, "align": "right", "baseline": "middle", "color": "#ffffff", "fontSize": 19, "lineBreak": "\n", "lineHeight": 22},
   "encoding": {"x": {"field": "s", "type": "quantitative", "scale": {"domain": [0.35, 33.5], "nice": false, "zero": false}, "axis": null}, "y": {"field": "v", "type": "quantitative", "scale": {"domain": [0, 100], "nice": false}, "axis": null}, "text": {"field": "t"}}},
  {"transform": [{"filter": "datum.k === 'bind' && datum.r === 2"}], "mark": {"type": "text", "angle": 270, "align": "left", "baseline": "middle", "color": "#ffffff", "fontSize": 19, "lineBreak": "\n", "lineHeight": 22},
   "encoding": {"x": {"field": "s", "type": "quantitative", "scale": {"domain": [0.35, 33.5], "nice": false, "zero": false}, "axis": null}, "y": {"field": "v", "type": "quantitative", "scale": {"domain": [0, 100], "nice": false}, "axis": null}, "text": {"field": "t"}}},
  {"transform": [{"filter": "datum.k === 'rev'"}], "mark": {"type": "text", "angle": 270, "align": "center", "baseline": "middle", "color": "#a0a0a0", "fontSize": 17},
   "encoding": {"x": {"field": "xt", "type": "quantitative", "scale": {"domain": [0.35, 33.5], "nice": false, "zero": false}, "axis": {"orient": "bottom", "values": [0.35,5,10,15,20,25,33.5], "labelExpr": "datum.value < 1 ? \"5'-terminus\" : datum.value > 33 ? \"3'-terminus\" : datum.label", "domain": false, "ticks": false, "tickSize": 0, "labelPadding": 20, "labelFontSize": 19, "labelFlush": false, "labelOverlap": false, "title": "cleavage site", "titlePadding": 14, "titleFontSize": 20}}, "y": {"field": "yt", "type": "quantitative", "scale": {"domain": [0, 100], "nice": false}, "axis": null}, "text": {"field": "rt"}}},
  {"transform": [{"filter": "datum.k === 'pill'"}], "mark": {"type": "rect", "cornerRadius": 15, "fill": "#d0d0d0"},
   "encoding": {"x": {"field": "x1", "type": "quantitative", "scale": {"domain": [0.35, 33.5], "nice": false, "zero": false}, "axis": null}, "x2": {"field": "x2"}, "y": {"field": "y1", "type": "quantitative", "scale": {"domain": [0, 100], "nice": false}, "axis": null}, "y2": {"field": "y2"}}},
  {"transform": [{"filter": "datum.k === 'pill'"}], "mark": {"type": "text", "fontSize": 21, "color": "#231f20", "baseline": "middle"},
   "encoding": {"x": {"field": "xt", "type": "quantitative", "scale": {"domain": [0.35, 33.5], "nice": false, "zero": false}, "axis": null}, "y": {"field": "yt", "type": "quantitative", "scale": {"domain": [0, 100], "nice": false}, "axis": null}, "text": {"field": "t"}}},
  {"transform": [{"filter": "datum.k === 'arr'"}], "mark": {"type": "rule", "strokeWidth": 1.6, "color": "#000"},
   "encoding": {"x": {"field": "x1", "type": "quantitative", "scale": {"domain": [0.35, 33.5], "nice": false, "zero": false}, "axis": null}, "x2": {"field": "x2"}, "y": {"field": "y1", "type": "quantitative", "scale": {"domain": [0, 100], "nice": false}, "axis": null}, "y2": {"field": "y2"}}},
  {"transform": [{"filter": "datum.k === 'arr' && datum.f === 'c'"}], "mark": {"type": "point", "shape": "M0,0L0.65,2L-0.65,2Z", "size": 400, "filled": true, "color": "#000", "opacity": 1, "angle": 139.4},
   "encoding": {"x": {"field": "x2", "type": "quantitative", "scale": {"domain": [0.35, 33.5], "nice": false, "zero": false}, "axis": null}, "y": {"field": "y2", "type": "quantitative", "scale": {"domain": [0, 100], "nice": false}, "axis": null}}},
  {"transform": [{"filter": "datum.k === 'arr' && datum.f === 'y'"}], "mark": {"type": "point", "shape": "M0,0L0.65,2L-0.65,2Z", "size": 400, "filled": true, "color": "#000", "opacity": 1, "angle": 332.7},
   "encoding": {"x": {"field": "x2", "type": "quantitative", "scale": {"domain": [0.35, 33.5], "nice": false, "zero": false}, "axis": null}, "y": {"field": "y2", "type": "quantitative", "scale": {"domain": [0, 100], "nice": false}, "axis": null}}},
  {"transform": [{"filter": "datum.k === 'arr'"}], "mark": {"type": "text", "align": "right", "baseline": "alphabetic", "dx": -1, "font": "Liberation Serif", "fontStyle": "italic", "fontWeight": "bold", "fontSize": 23, "color": "#000"},
   "encoding": {"x": {"field": "xl", "type": "quantitative", "scale": {"domain": [0.35, 33.5], "nice": false, "zero": false}, "axis": null}, "y": {"field": "yl", "type": "quantitative", "scale": {"domain": [0, 100], "nice": false}, "axis": null}, "text": {"field": "t"}}},
  {"transform": [{"filter": "datum.k === 'arr'"}], "mark": {"type": "text", "align": "left", "baseline": "alphabetic", "dx": 3, "fontSize": 19, "color": "#231f20"},
   "encoding": {"x": {"field": "xl", "type": "quantitative", "scale": {"domain": [0.35, 33.5], "nice": false, "zero": false}, "axis": null}, "y": {"field": "yl", "type": "quantitative", "scale": {"domain": [0, 100], "nice": false}, "axis": null}, "text": {"field": "w"}}},
  {"transform": [{"filter": "datum.k === 'c'"}], "mark": {"type": "line", "strokeDash": [4, 3], "strokeWidth": 1.2, "color": "#000"},
   "encoding": {"x": {"field": "s", "type": "quantitative", "scale": {"domain": [0.35, 33.5], "nice": false, "zero": false}, "axis": null}, "y": {"field": "v", "type": "quantitative", "scale": {"domain": [0, 100], "nice": false}, "axis": null}, "detail": {"field": "g"}}},
  {"transform": [{"filter": "datum.k === 'y'"}], "mark": {"type": "line", "strokeDash": [4, 3], "strokeWidth": 1.2, "color": "#000"},
   "encoding": {"x": {"field": "s", "type": "quantitative", "scale": {"domain": [0.35, 33.5], "nice": false, "zero": false}, "axis": null}, "y": {"field": "v", "type": "quantitative", "scale": {"domain": [0, 100], "nice": false, "reverse": true}, "axis": null}, "detail": {"field": "g"}}},
  {"transform": [{"filter": "datum.k === 'c'"}], "mark": {"type": "point", "shape": "triangle-up", "size": 200, "filled": true, "fill": "#fff", "stroke": "#000", "strokeWidth": 1.2, "opacity": 1},
   "encoding": {"x": {"field": "s", "type": "quantitative", "scale": {"domain": [0.35, 33.5], "nice": false, "zero": false}, "axis": null}, "y": {"field": "v", "type": "quantitative", "scale": {"domain": [0, 100], "nice": false}, "axis": null}}},
  {"transform": [{"filter": "datum.k === 'y'"}], "mark": {"type": "point", "shape": "triangle-down", "size": 200, "filled": true, "fill": "#fff", "stroke": "#000", "strokeWidth": 1.2, "opacity": 1},
   "encoding": {"x": {"field": "s", "type": "quantitative", "scale": {"domain": [0.35, 33.5], "nice": false, "zero": false}, "axis": null}, "y": {"field": "v", "type": "quantitative", "scale": {"domain": [0, 100], "nice": false, "reverse": true}, "axis": {"values": [0,20,40,60,80,100], "orient": "right", "tickSize": 6, "tickWidth": 2.5, "domainWidth": 2.5, "labelPadding": 0, "labelFontSize": 18, "title": "O (%)", "titleAngle": 90, "titlePadding": -5, "titleFontSize": 19}}}}
 ]}
]
}
